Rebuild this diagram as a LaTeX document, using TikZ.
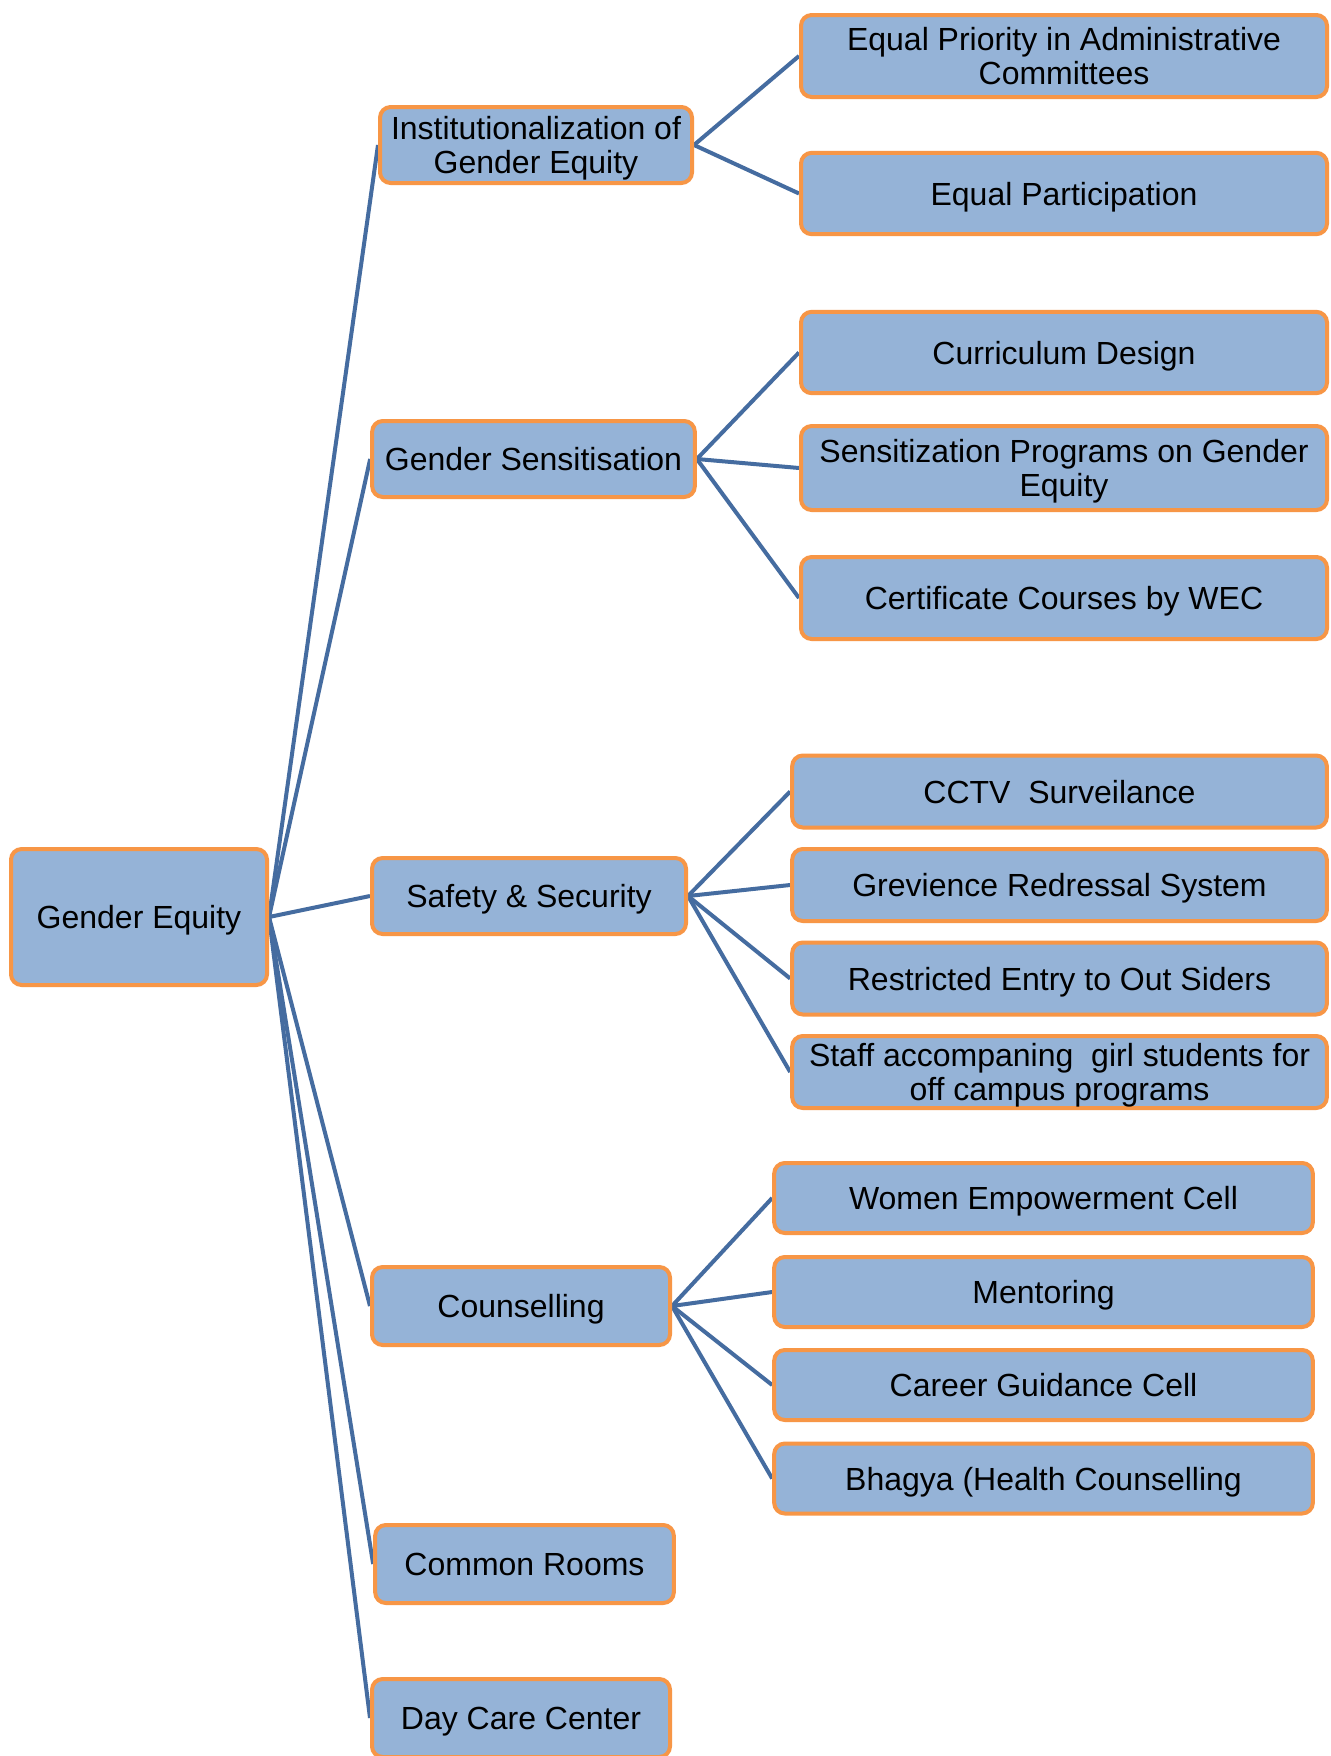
\documentclass[tikz,border=0pt]{standalone}
\usepackage{fontspec}
\setmainfont{Liberation Sans}
\usetikzlibrary{backgrounds}
\definecolor{boxfill}{HTML}{95B3D7}
\definecolor{boxline}{HTML}{F79646}
\definecolor{linkcol}{RGB}{69,108,160}
\tikzset{
  box/.style={draw=boxline, fill=boxfill, line width=3pt, rounded corners=8pt,
    inner sep=1pt, text depth=0pt, align=center, font=\fontsize{24}{25}\selectfont},
  link/.style={draw=linkcol, line width=3pt},
}
\begin{document}
\begin{tikzpicture}[x=0.75pt,y=-0.75pt]
\clip (0,0) rectangle (1331,1756);

% root
\node[box, minimum width=192pt, minimum height=102pt] (root) at (139,917) {Gender Equity};

% first level
\node[box, minimum width=234pt, minimum height=57pt] (inst) at (536,145) {Institutionalization of\\Gender Equity};
\node[box, minimum width=242pt, minimum height=57pt] (sens) at (533.5,459) {Gender Sensitisation};
\node[box, minimum width=235.5pt, minimum height=57pt] (safe) at (529,896) {Safety \& Security};
\node[box, minimum width=223.5pt, minimum height=58.5pt] (couns) at (521,1306) {Counselling};
\node[box, minimum width=224pt, minimum height=58.5pt] (common) at (524.5,1564) {Common Rooms};
\node[box, minimum width=223.5pt, minimum height=58.5pt] (day) at (521,1718) {Day Care Center};

% institutionalization and sensitisation branches
\tikzset{wideA/.style={box, minimum width=394.5pt, minimum height=61.5pt}}
\node[wideA] (prio) at (1064,56) {Equal Priority in Administrative\\Committees};
\node[wideA, minimum height=61pt] (part) at (1064,193.5) {Equal Participation};
\node[wideA, minimum height=61pt] (curr) at (1064,352.5) {Curriculum Design};
\node[wideA, minimum height=63pt] (prog) at (1064,468) {Sensitization Programs on Gender\\Equity};
\node[wideA, minimum height=61.5pt] (cert) at (1064,598) {Certificate Courses by WEC};

% safety branch
\tikzset{wideB/.style={box, minimum width=401pt, minimum height=54pt}}
\node[wideB] (cctv) at (1059.5,791.5) {CCTV~~Surveilance};
\node[wideB] (griev) at (1059.5,885) {Grevience Redressal System};
\node[wideB] (restr) at (1059.5,978.5) {Restricted Entry to Out Siders};
\node[wideB] (staff) at (1059.5,1072) {Staff accompaning~~girl students for\\off campus programs};

% counselling branch
\tikzset{wideC/.style={box, minimum width=404pt, minimum height=52.5pt}}
\node[wideC] (women) at (1043.5,1198) {Women Empowerment Cell};
\node[wideC] (mentor) at (1043.5,1292) {Mentoring};
\node[wideC] (career) at (1043.5,1385) {Career Guidance Cell};
\node[wideC] (bhagya) at (1043.5,1478.5) {Bhagya (Health Counselling};

\begin{scope}[on background layer]
  \fill[white] (0,0) rectangle (1331,1756);
  \foreach \c in {inst,sens,safe,couns,common,day}
    \draw[link] (root.east) -- (\c.west);
  \foreach \c in {prio,part}
    \draw[link] (inst.east) -- (\c.west);
  \foreach \c in {curr,prog,cert}
    \draw[link] (sens.east) -- (\c.west);
  \foreach \c in {cctv,griev,restr,staff}
    \draw[link] (safe.east) -- (\c.west);
  \foreach \c in {women,mentor,career,bhagya}
    \draw[link] (couns.east) -- (\c.west);
\end{scope}
\end{tikzpicture}
\end{document}
